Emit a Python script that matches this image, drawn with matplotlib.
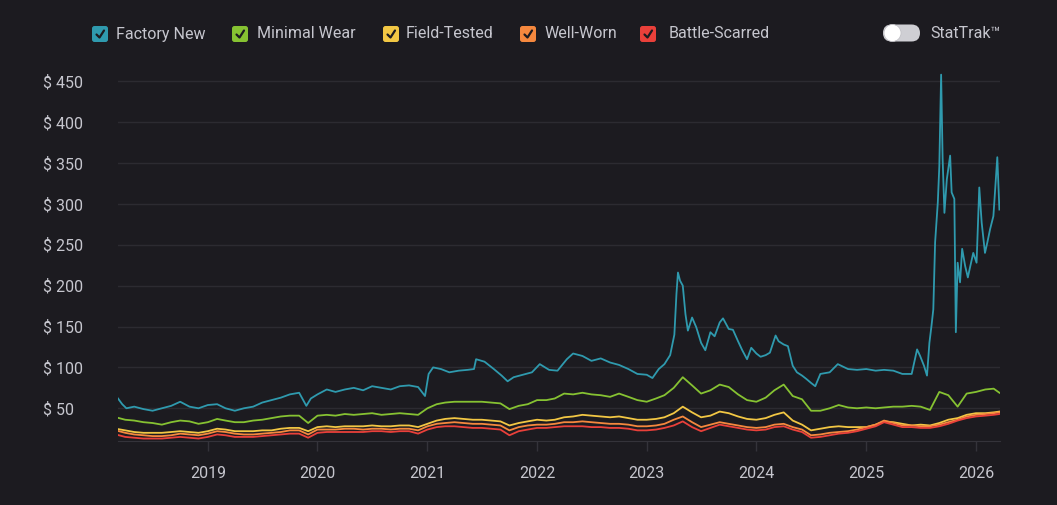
import matplotlib
matplotlib.use("Agg")
import matplotlib.pyplot as plt
import matplotlib.dates as mdates
from matplotlib.patches import FancyBboxPatch, Circle
import pandas as pd

# ---------------------------------------------------------------------------
# Data
# ---------------------------------------------------------------------------
categories = ["Factory New", "Minimal Wear", "Field-Tested", "Well-Worn", "Battle-Scarred"]
colors = ["#2f9aae", "#86c232", "#f2c744", "#f5883e", "#e9403a"]

fn_dates = [
    "2018-03-08", "2018-03-22", "2018-04-05", "2018-05-01", "2018-06-01", "2018-07-01",
    "2018-08-01", "2018-09-01", "2018-10-01", "2018-11-01", "2018-12-01", "2019-01-01",
    "2019-02-01", "2019-03-01", "2019-04-01", "2019-05-01", "2019-06-01", "2019-07-01",
    "2019-08-01", "2019-09-01", "2019-10-01", "2019-11-01", "2019-11-25", "2019-12-10",
    "2020-01-01", "2020-02-01", "2020-03-01", "2020-04-01", "2020-05-01", "2020-06-01",
    "2020-07-01", "2020-08-01", "2020-09-01", "2020-10-01", "2020-11-01", "2020-12-01",
    "2020-12-24", "2021-01-05", "2021-01-20", "2021-02-15", "2021-03-15", "2021-04-15",
    "2021-05-15", "2021-06-05", "2021-06-12", "2021-07-10", "2021-08-10", "2021-09-05",
    "2021-09-25", "2021-10-15", "2021-11-15", "2021-12-15", "2022-01-10", "2022-02-10",
    "2022-03-10", "2022-04-10", "2022-05-01", "2022-06-01", "2022-07-01", "2022-08-01",
    "2022-09-01", "2022-10-01", "2022-11-01", "2022-12-01", "2023-01-01", "2023-01-20",
    "2023-02-10", "2023-03-01", "2023-03-20", "2023-04-03", "2023-04-10", "2023-04-15",
    "2023-04-22", "2023-05-01", "2023-05-10", "2023-05-18", "2023-06-01", "2023-06-15",
    "2023-07-01", "2023-07-15", "2023-08-01", "2023-08-15", "2023-09-01", "2023-09-12",
    "2023-10-01", "2023-10-15", "2023-11-01", "2023-11-15", "2023-12-01", "2023-12-15",
    "2024-01-01", "2024-01-15", "2024-02-01", "2024-02-15", "2024-03-05", "2024-03-15",
    "2024-04-01", "2024-04-15", "2024-05-01", "2024-05-15", "2024-06-01", "2024-06-15",
    "2024-07-01", "2024-07-15", "2024-08-01", "2024-09-01", "2024-09-28", "2024-11-01",
    "2024-12-01", "2025-01-01", "2025-02-01", "2025-03-01", "2025-04-01", "2025-05-01",
    "2025-06-01", "2025-06-19", "2025-06-29", "2025-07-12", "2025-07-22", "2025-07-30",
    "2025-08-06", "2025-08-12", "2025-08-18", "2025-08-27", "2025-09-01", "2025-09-07",
    "2025-09-12", "2025-09-18", "2025-09-26", "2025-10-07", "2025-10-12", "2025-10-21",
    "2025-10-26", "2025-11-01", "2025-11-09", "2025-11-16", "2025-11-26", "2025-12-05",
    "2025-12-12", "2025-12-23", "2026-01-03", "2026-01-12", "2026-01-20", "2026-01-31",
    "2026-02-08", "2026-02-17", "2026-02-28", "2026-03-13", "2026-03-20",
]
fn_values = [
    62, 55, 50, 52, 49, 47,
    50, 53, 58, 52, 50, 54,
    55, 50, 47, 50, 52, 57,
    60, 63, 67, 69, 53, 62,
    67, 73, 70, 73, 75, 72,
    77, 75, 73, 77, 78, 76,
    65, 92, 100, 98, 94, 96,
    97, 98, 110, 107, 98, 90,
    83, 88, 91, 94, 104, 97,
    96, 110, 117, 114, 108, 111,
    106, 103, 98, 92, 91, 87,
    98, 104, 115, 140, 190, 216,
    206, 200, 165, 145, 161, 149,
    130, 121, 143, 138, 155, 160,
    147, 146, 132, 121, 110, 124,
    117, 113, 115, 118, 139, 132,
    128, 126, 102, 94, 90, 86,
    81, 77, 92, 94, 104, 98,
    97, 98, 96, 97, 96, 92,
    92, 122, 114, 102, 90, 130,
    151, 171, 253, 302, 346, 458,
    355, 289, 330, 359, 314, 306,
    143, 228, 204, 245, 224, 210,
    222, 240, 228, 320, 277, 240,
    253, 269, 285, 357, 293,
]

# monthly dates for the four lower conditions
month_dates = list(pd.date_range("2018-03-01", "2026-03-01", freq="MS")) + [pd.Timestamp("2026-03-20")]

mw_values = [
    39, 36, 35, 33, 32, 30, 33, 35, 34, 31,
    33, 37, 35, 33, 33, 35, 36, 38, 40, 41, 41, 32,
    41, 42, 41, 43, 42, 43, 44, 42, 43, 44, 43, 42,
    50, 55, 57, 58, 58, 58, 58, 57, 56, 49, 53, 55,
    60, 60, 62, 68, 67, 69, 67, 66, 64, 68, 64, 60,
    58, 62, 66, 75, 88, 78, 68, 72, 79, 76, 67, 60,
    58, 63, 72, 79, 65, 61, 47, 47, 50, 54, 51, 50,
    51, 50, 51, 52, 52, 53, 52, 48, 70, 66, 52, 68,
    70, 73, 74, 69,
]
ft_values = [
    25, 23, 21, 20, 20, 20, 21, 22, 21, 20,
    22, 25, 24, 22, 22, 22, 23, 23, 25, 26, 26, 22,
    27, 28, 27, 28, 28, 28, 29, 28, 28, 29, 29, 27,
    31, 35, 37, 38, 37, 36, 36, 35, 34, 29, 32, 34,
    36, 35, 36, 39, 40, 42, 41, 40, 39, 40, 38, 36,
    36, 37, 39, 44, 52, 45, 39, 41, 46, 44, 40, 37,
    36, 38, 42, 45, 35, 30, 23, 25, 27, 28, 27, 27,
    27, 30, 34, 33, 31, 29, 30, 29, 32, 36, 38, 42,
    44, 44, 45, 46,
]
ww_values = [
    23, 20, 18, 17, 16, 16, 17, 19, 18, 17,
    19, 22, 21, 19, 18, 18, 19, 20, 21, 23, 23, 18,
    24, 24, 24, 25, 25, 24, 25, 25, 24, 25, 25, 23,
    28, 31, 32, 33, 32, 31, 31, 30, 29, 23, 27, 29,
    30, 30, 31, 33, 33, 34, 33, 32, 31, 31, 30, 28,
    28, 29, 31, 36, 40, 33, 27, 30, 33, 31, 29, 27,
    26, 27, 30, 31, 27, 24, 17, 18, 20, 21, 22, 24,
    27, 30, 35, 32, 29, 29, 28, 28, 30, 33, 36, 40,
    42, 43, 44, 45,
]
bs_values = [
    18, 15, 14, 13, 13, 13, 14, 15, 14, 13,
    15, 18, 17, 15, 15, 15, 16, 17, 18, 19, 19, 14,
    20, 21, 21, 21, 21, 21, 22, 22, 21, 22, 22, 19,
    24, 27, 28, 28, 27, 26, 26, 25, 24, 17, 22, 24,
    26, 26, 27, 28, 28, 28, 27, 27, 26, 26, 25, 23,
    23, 24, 26, 29, 34, 27, 22, 26, 30, 28, 26, 24,
    23, 24, 27, 28, 24, 21, 14, 15, 17, 19, 20, 22,
    25, 28, 33, 30, 27, 27, 26, 26, 28, 31, 35, 38,
    40, 41, 42, 43,
]

y_ticks = [50, 100, 150, 200, 250, 300, 350, 400, 450]
x_years = ["2019", "2020", "2021", "2022", "2023", "2024", "2025", "2026"]

# ---------------------------------------------------------------------------
# Styling
# ---------------------------------------------------------------------------
bg = "#1c1b20"
grid_c = "#2c2b31"
text_c = "#c6c6ce"
plt.rcParams["font.family"] = ["Roboto", "DejaVu Sans"]

W, H = 1057, 505
fig = plt.figure(figsize=(W / 100, H / 100), dpi=100, facecolor=bg)
ax = fig.add_axes([118 / W, (H - 441) / H, (1000 - 118) / W, (441 - 73) / H])
ax.set_facecolor(bg)

series = [
    (pd.to_datetime(fn_dates), fn_values),
    (month_dates, mw_values),
    (month_dates, ft_values),
    (month_dates, ww_values),
    (month_dates, bs_values),
]
for (d, v), c in zip(series, colors):
    ax.plot(d, v, color=c, lw=1.3, solid_joinstyle="round")

ax.set_ylim(10, 460)
ax.set_xlim(pd.Timestamp("2018-03-08"), pd.Timestamp("2026-03-22"))

ax.set_yticks(y_ticks)
ax.set_yticklabels([f"$ {v}" for v in y_ticks])
ax.grid(axis="y", color=grid_c, lw=1)
ax.tick_params(axis="y", length=0, pad=54, labelsize=11.5, labelcolor=text_c)
for lbl in ax.get_yticklabels():
    lbl.set_horizontalalignment("left")

ax.set_xticks([pd.Timestamp(f"{y}-01-01") for y in x_years])
ax.set_xticklabels(x_years)
ax.tick_params(axis="x", length=7, width=1, color="#34333a", pad=11,
               labelsize=11.5, labelcolor=text_c)

for s in ["top", "right", "left"]:
    ax.spines[s].set_visible(False)
ax.spines["bottom"].set_color("#34333a")
ax.set_axisbelow(True)

# ---------------------------------------------------------------------------
# Legend with check boxes and the StatTrak toggle (pixel overlay)
# ---------------------------------------------------------------------------
ov = fig.add_axes([0, 0, 1, 1], zorder=5)
ov.set_xlim(0, W)
ov.set_ylim(H, 0)
ov.axis("off")
ov.patch.set_alpha(0)

box_x = [92, 232, 383, 520, 640]
text_x = [116, 257, 406, 545, 669]
for bx, tx, name, c in zip(box_x, text_x, categories, colors):
    ov.add_patch(FancyBboxPatch((bx, 26), 16, 16, boxstyle="round,pad=0,rounding_size=2.5",
                                fc=c, ec="none"))
    ov.plot([bx + 4.5, bx + 7.5, bx + 12], [34.5, 37.5, 30.5], color=bg, lw=1.6,
            solid_capstyle="round", solid_joinstyle="round")
    ov.text(tx, 34, name, color=text_c, fontsize=11.5, va="center", ha="left")

ov.add_patch(FancyBboxPatch((883, 24.5), 37, 17, boxstyle="round,pad=0,rounding_size=8.5",
                            fc="#cfcfd4", ec="none"))
ov.add_patch(Circle((892.5, 33), 8.5, fc="#ffffff", ec="#bdbdc2", lw=0.5))
ov.text(930, 34, "StatTrak™", color=text_c, fontsize=11.5, va="center", ha="left")

fig.savefig("out.png", dpi=100, facecolor=bg)
